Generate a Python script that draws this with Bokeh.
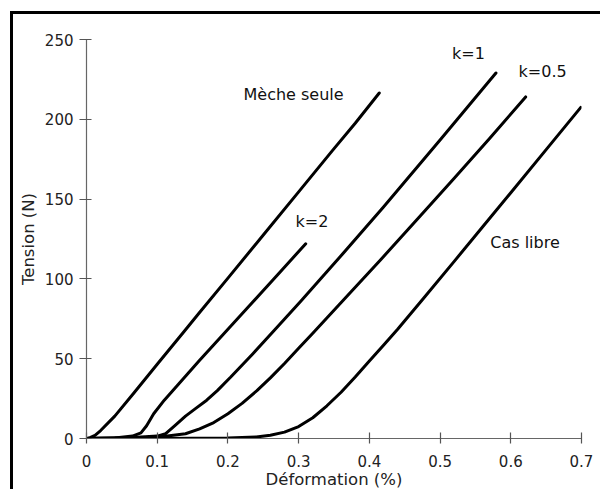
from bokeh.plotting import figure
from bokeh.models import Range1d, FixedTicker, Label
from bokeh.embed import file_html
from bokeh.resources import INLINE

# ---- data (deformation %, tension N) ----
meche_x = [0, 0.005, 0.012, 0.02, 0.04, 0.067, 0.1, 0.138, 0.159, 0.2, 0.25, 0.3, 0.348, 0.38, 0.414]
meche_y = [0, 0.5, 2, 5, 14, 28.5, 46.5, 67, 78.5, 100.5, 127.5, 154.5, 180.5, 197.5, 216.5]

k2_x = [0, 0.04, 0.065, 0.077, 0.085, 0.095, 0.11, 0.13, 0.16, 0.2, 0.23, 0.27, 0.31]
k2_y = [0, 0.3, 1.5, 3.5, 8, 15.5, 24, 34, 49, 68.5, 83, 102.5, 122]

k1_x = [0, 0.06, 0.1, 0.112, 0.125, 0.14, 0.155, 0.17, 0.185, 0.204, 0.235, 0.265, 0.303, 0.359, 0.42, 0.5, 0.579]
k1_y = [0, 0.5, 1.5, 3, 8, 14, 19, 24, 30, 38.5, 53, 67.5, 86, 114, 145, 187, 229]

k05_x = [0, 0.1, 0.14, 0.16, 0.18, 0.2, 0.22, 0.241, 0.26, 0.28, 0.3, 0.32, 0.366, 0.416, 0.47, 0.52, 0.57, 0.621]
k05_y = [0, 0.8, 3, 6, 10, 15.5, 22, 30, 38, 47, 56.5, 66, 88, 112, 138.5, 163, 188, 214]

libre_x = [0, 0.1, 0.2, 0.24, 0.26, 0.28, 0.3, 0.32, 0.34, 0.36, 0.38, 0.4, 0.42, 0.44, 0.477, 0.52, 0.56, 0.6, 0.65, 0.699]
libre_y = [0, 0, 0.3, 1, 2, 4, 7.5, 13, 20.5, 29, 38.5, 48.5, 58.5, 68.5, 88, 111, 132.5, 154, 181, 207.5]

x_ticks = [0, 0.1, 0.2, 0.3, 0.4, 0.5, 0.6, 0.7]
x_tick_labels = ["0", "0.1", "0.2", "0.3", "0.4", "0.5", "0.6", "0.7"]
y_ticks = [0, 50, 100, 150, 200, 250]

curve_labels = ["Mèche seule", "k=2", "k=1", "k=0.5", "Cas libre"]
label_x = [0.222, 0.2956, 0.517, 0.611, 0.571]
label_y = [215.5, 136, 241.5, 230, 123]

FONT = "DejaVu Sans"

p = figure(width=590, height=478, output_backend="svg", toolbar_location=None,
           x_range=Range1d(0, 0.7), y_range=Range1d(0, 250),
           min_border_left=73, min_border_right=22, min_border_top=25, min_border_bottom=54,
           styles={"border-top": "3px solid black", "border-left": "3px solid black",
                   "margin-left": "10px", "margin-top": "11px"})
p.grid.visible = False
p.outline_line_color = None
p.background_fill_color = "white"
p.border_fill_color = "white"

for xs, ys in [(meche_x, meche_y), (k2_x, k2_y), (k1_x, k1_y), (k05_x, k05_y), (libre_x, libre_y)]:
    p.line(xs, ys, line_color="black", line_width=3, line_join="round", line_cap="round")

for t, lx, ly in zip(curve_labels, label_x, label_y):
    p.add_layout(Label(x=lx, y=ly, text=t, text_font=FONT, text_font_size="16px",
                       text_color="#111111", text_baseline="middle", text_align="left"))

ax = p.xaxis[0]
ax.ticker = FixedTicker(ticks=x_ticks)
ax.major_label_overrides = {t: l for t, l in zip(x_ticks, x_tick_labels)}
ax.axis_label = "Déformation (%)"
ay = p.yaxis[0]
ay.ticker = FixedTicker(ticks=y_ticks)
ay.axis_label = "Tension (N)"

for a in (ax, ay):
    a.axis_line_color = "#666666"
    a.axis_line_width = 1.2
    a.major_tick_line_color = "#555555"
    a.major_tick_line_width = 1.2
    a.minor_tick_line_color = None
    a.major_label_text_font = FONT
    a.major_label_text_font_size = "15px"
    a.major_label_text_color = "#222222"
    a.axis_label_text_font = FONT
    a.axis_label_text_font_size = "16.5px"
    a.axis_label_text_font_style = "normal"
    a.axis_label_text_color = "#222222"

ax.major_tick_out = 5
ax.major_tick_in = 6
ax.major_label_standoff = 11
ax.axis_label_standoff = 0
ay.major_tick_out = 7
ay.major_tick_in = 5
ay.major_label_standoff = 6
ay.axis_label_standoff = 4

open("out.html", "w").write(file_html(p, INLINE))
